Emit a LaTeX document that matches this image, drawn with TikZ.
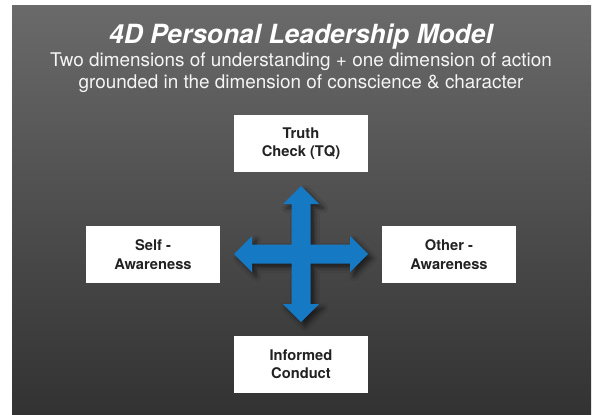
\documentclass[tikz,border=0pt]{standalone}
\usepackage{fontspec}
\setmainfont{TeX Gyre Heros}
\usetikzlibrary{shadows.blur}
\definecolor{bgtop}{RGB}{106,106,106}
\definecolor{bgbot}{RGB}{50,50,50}
\definecolor{crossblue}{RGB}{22,121,195}
\definecolor{boxtext}{RGB}{34,34,34}
\definecolor{subwhite}{RGB}{245,245,245}
\tikzset{
  dimbox/.style={fill=white, draw=none, minimum width=134pt, minimum height=57pt,
    inner sep=0pt, align=center, text=boxtext,
    font=\fontsize{14.7pt}{18.3pt}\selectfont\bfseries},
  subline/.style={anchor=base, text=subwhite, inner sep=0pt,
    font=\fontsize{18.9pt}{21.6pt}\selectfont},
}
\begin{document}
\begin{tikzpicture}[x=1pt,y=-1pt]
\useasboundingbox (0,0) rectangle (592,415);
\fill[white] (0,0) rectangle (592,415);
\shade[top color=bgtop, bottom color=bgbot] (12,5) rectangle (591,415);
\node[anchor=base, text=white, inner sep=0pt,
  font=\fontsize{26.4pt}{30pt}\selectfont\bfseries\itshape] (title) at (301,43) {4D Personal Leadership Model};
\node[subline] (sub1) at (301,66.7) {Two dimensions of understanding + one dimension of action};
\node[subline] (sub2) at (301,88.3) {grounded in the dimension of conscience \& character};
\node[dimbox] (truth) at (301,143.5) {Truth\\Check (TQ)};
\node[dimbox] (self) at (153,254.5) {Self -\\Awareness};
\node[dimbox] (other) at (449,254.5) {Other -\\Awareness};
\node[dimbox] (conduct) at (301,364.5) {Informed\\Conduct};
\fill[crossblue, blur shadow={shadow xshift=4pt, shadow yshift=-4pt, shadow blur radius=5pt, shadow opacity=60}]
  (301,186) -- (319,204) -- (310.5,204) -- (310.5,244.5) -- (350,244.5) -- (350,236)
  -- (368,254) -- (350,272) -- (350,263.5) -- (310.5,263.5) -- (310.5,304) -- (319,304)
  -- (301,322) -- (283,304) -- (291.5,304) -- (291.5,263.5) -- (252,263.5) -- (252,272)
  -- (234,254) -- (252,236) -- (252,244.5) -- (291.5,244.5) -- (291.5,204) -- (283,204) -- cycle;
\end{tikzpicture}
\end{document}
